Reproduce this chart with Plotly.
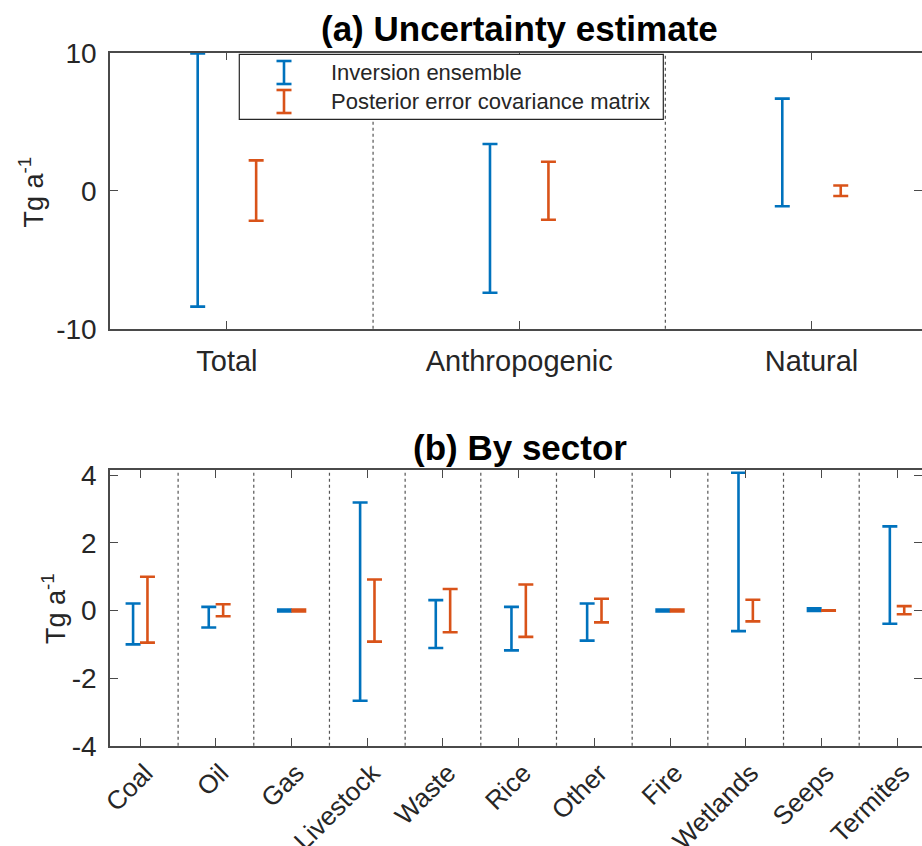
import plotly.graph_objects as go

# ---------------- data ----------------
groups = ["Total", "Anthropogenic", "Natural"]
ens_lo_top = [-8.4, -7.4, -1.13]
ens_hi_top = [9.95, 3.38, 6.67]
post_lo_top = [-2.18, -2.1, -0.38]
post_hi_top = [2.2, 2.1, 0.38]
yticks_top = [-10, 0, 10]
yticklabels_top = ["-10", "0", "10"]

sectors = ["Coal", "Oil", "Gas", "Livestock", "Waste", "Rice", "Other",
           "Fire", "Wetlands", "Seeps", "Termites"]
ens_lo = [-1.0, -0.5, -0.03, -2.67, -1.11, -1.18, -0.89, -0.03, -0.61, -0.01, -0.39]
ens_hi = [0.21, 0.11, 0.03, 3.2, 0.31, 0.11, 0.21, 0.03, 4.08, 0.07, 2.49]
post_lo = [-0.95, -0.17, -0.03, -0.92, -0.64, -0.78, -0.35, -0.03, -0.32, -0.005, -0.11]
post_hi = [1.0, 0.185, 0.03, 0.92, 0.64, 0.77, 0.35, 0.03, 0.32, 0.005, 0.13]
yticks_bot = [-4, -2, 0, 2, 4]
yticklabels_bot = ["-4", "-2", "0", "2", "4"]

series_names = ["Inversion ensemble", "Posterior error covariance matrix"]
ylabel = "Tg a<sup>-1</sup>"
titles = ["(a) Uncertainty estimate", "(b) By sector"]

# ---------------- style ----------------
BLUE = "#0072BD"
ORANGE = "#D95319"
AX = "#262626"
FONT = "Liberation Sans, Arial, sans-serif"
W, H = 922, 846
L = 110            # left margin (px)
R = 0
PW = W - L - R


def px_x(px):
    return (px - L) / PW


def px_y(py):
    return 1 - py / H


fig = go.Figure()


def add_err(x, lo, hi, color, xa, ya):
    mid = [(a + b) / 2 for a, b in zip(lo, hi)]
    fig.add_trace(go.Scatter(
        x=x, y=mid, mode="markers", xaxis=xa, yaxis=ya,
        marker=dict(size=1, color="rgba(0,0,0,0)"),
        showlegend=False, hoverinfo="skip",
        error_y=dict(type="data", symmetric=False,
                     array=[h - m for h, m in zip(hi, mid)],
                     arrayminus=[m - l for m, l in zip(mid, lo)],
                     color=color, thickness=2.6, width=7.5)))


xt = list(range(1, len(groups) + 1))
xs = list(range(1, len(sectors) + 1))
add_err([v - 0.1 for v in xt], ens_lo_top, ens_hi_top, BLUE, "x", "y")
add_err([v + 0.1 for v in xt], post_lo_top, post_hi_top, ORANGE, "x", "y")
add_err([v - 0.095 for v in xs], ens_lo, ens_hi, BLUE, "x2", "y2")
add_err([v + 0.095 for v in xs], post_lo, post_hi, ORANGE, "x2", "y2")

shapes = []
# dotted separators
for k in range(1, len(groups)):
    shapes.append(dict(type="line", xref="x", yref="y domain", x0=k + 0.5, x1=k + 0.5,
                       y0=0, y1=1, line=dict(color="#555555", width=1.2, dash="dot"), layer="below"))
for k in range(1, len(sectors)):
    shapes.append(dict(type="line", xref="x2", yref="y2 domain", x0=k + 0.5, x1=k + 0.5,
                       y0=0, y1=1, line=dict(color="#555555", width=1.2, dash="dot"), layer="below"))

# legend box
shapes.append(dict(type="rect", xref="paper", yref="paper",
                   x0=px_x(239.3), x1=px_x(663.3), y0=px_y(119.3), y1=px_y(54.3),
                   fillcolor="white", line=dict(color=AX, width=1.2), layer="above"))
# legend glyphs
for (y0, y1), col in zip([(61, 84), (90, 113)], [BLUE, ORANGE]):
    shapes.append(dict(type="line", xref="paper", yref="paper", x0=px_x(284), x1=px_x(284),
                       y0=px_y(y0), y1=px_y(y1), line=dict(color=col, width=2.6), layer="above"))
    for yy in (y0, y1):
        shapes.append(dict(type="line", xref="paper", yref="paper", x0=px_x(276.5), x1=px_x(291.5),
                           y0=px_y(yy), y1=px_y(yy), line=dict(color=col, width=2.6), layer="above"))

annotations = []
for txt, yy in zip(series_names, [72.5, 102]):
    annotations.append(dict(text=txt, xref="paper", yref="paper", x=px_x(329), y=px_y(yy),
                            xanchor="left", yanchor="middle", showarrow=False,
                            font=dict(family=FONT, size=22, color=AX)))
for txt, yy in zip(titles, [28, 447]):
    annotations.append(dict(text=txt, xref="paper", yref="paper", x=px_x(519.5), y=px_y(yy),
                            xanchor="center", yanchor="middle", showarrow=False,
                            font=dict(family=FONT, size=35, color="black", weight="bold")))
for xx, yy in [(31, 192.5), (54, 609)]:
    annotations.append(dict(text=ylabel, xref="paper", yref="paper", x=px_x(xx), y=px_y(yy),
                            xanchor="center", yanchor="middle", showarrow=False, textangle=-90,
                            font=dict(family=FONT, size=27, color=AX)))

axis_common = dict(showline=True, linecolor="#4a4a4a", linewidth=1.5, mirror="ticks",
                   ticks="inside", ticklen=8, tickwidth=1.3, tickcolor="#4a4a4a",
                   showgrid=False, zeroline=False, fixedrange=True, automargin=False)

fig.update_layout(
    width=W, height=H,
    margin=dict(l=L, r=R, t=0, b=0, autoexpand=False),
    paper_bgcolor="white", plot_bgcolor="white",
    showlegend=False,
    shapes=shapes, annotations=annotations,
    font=dict(family=FONT, color=AX),
    modebar=dict(bgcolor="rgba(0,0,0,0)", color="rgba(0,0,0,0)", activecolor="rgba(0,0,0,0)"),
    xaxis=dict(domain=[0, 1], anchor="y", range=[0.6, 3.378], tickmode="array",
               tickvals=xt, ticktext=groups, tickfont=dict(size=29, color=AX),
               ticklabelstandoff=6, **axis_common),
    yaxis=dict(domain=[px_y(328.7), px_y(52.7)], anchor="x", range=[-10, 10],
               tickmode="array", tickvals=yticks_top, ticktext=yticklabels_top,
               tickfont=dict(size=28, color=AX), ticklabelstandoff=6, **axis_common),
    xaxis2=dict(domain=[0, 1], anchor="y2", range=[0.6, 11.33], tickmode="array",
                tickvals=xs, ticktext=sectors, tickangle=-45, tickfont=dict(size=26, color=AX),
                ticklabelstandoff=0, ticklabelshift=5, **axis_common),
    yaxis2=dict(domain=[px_y(745.7), px_y(470)], anchor="x2", range=[-4, 4.16],
                tickmode="array", tickvals=yticks_bot, ticktext=yticklabels_bot,
                tickfont=dict(size=28, color=AX), ticklabelstandoff=6, **axis_common),
)

# remove the default page margin so the 922x846 figure fills the window exactly
fig.write_html("out.html", config={"displayModeBar": False},
               post_script="document.body.style.margin='0';document.body.style.overflow='hidden';")
